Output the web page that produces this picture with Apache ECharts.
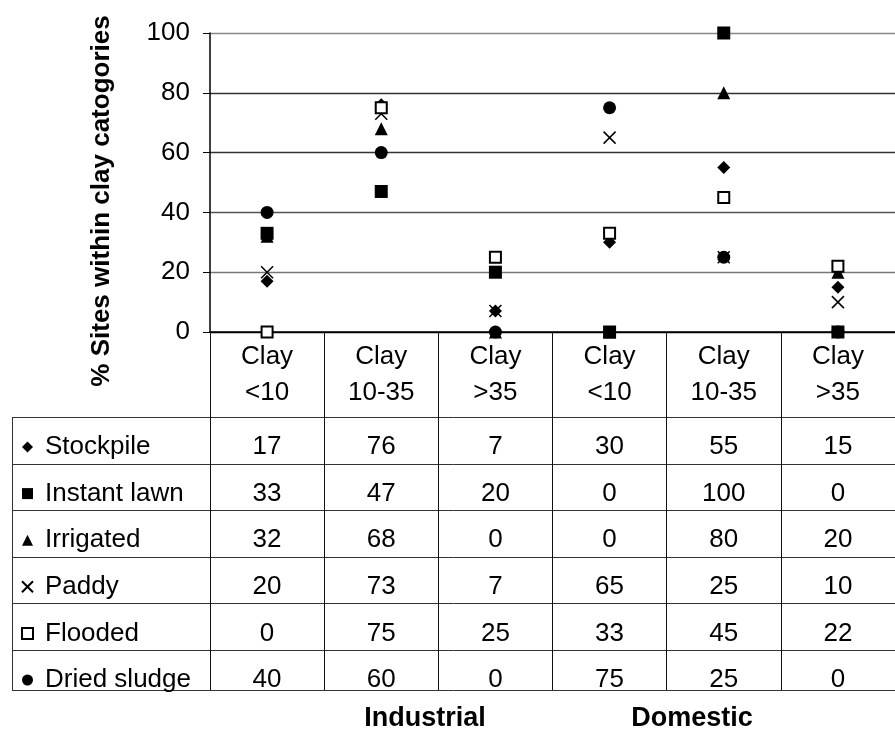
<!DOCTYPE html>
<html>
<head>
<meta charset="utf-8">
<script src="https://cdn.jsdelivr.net/npm/echarts@6/dist/echarts.min.js"></script>
<style>
html,body{margin:0;padding:0;background:#fff;}
#chart{width:895px;height:729px;}
</style>
</head>
<body>
<div id="chart"></div>
<script>
var categories = ["Clay\n<10", "Clay\n10-35", "Clay\n>35", "Clay\n<10", "Clay\n10-35", "Clay\n>35"];
var groupLabels = ["Industrial", "Domestic"];
var yTicks = [0, 20, 40, 60, 80, 100];

var seriesNames = ["Stockpile", "Instant lawn", "Irrigated", "Paddy", "Flooded", "Dried sludge"];
var stockpile   = [17, 76, 7, 30, 55, 15];
var instantLawn = [33, 47, 20, 0, 100, 0];
var irrigated   = [32, 68, 0, 0, 80, 20];
var paddy       = [20, 73, 7, 65, 25, 10];
var flooded     = [0, 75, 25, 33, 45, 22];
var driedSludge = [40, 60, 0, 75, 25, 0];
var seriesValues = [stockpile, instantLawn, irrigated, paddy, flooded, driedSludge];

var FONT = "'Liberation Sans', Arial, sans-serif";
var crossPath = 'path://M0,0L10,10M10,0L0,10';
var symbolDefs = [
  {symbol: 'diamond', size: 13, style: {color: '#000', opacity: 1}},
  {symbol: 'rect', size: 13, style: {color: '#000', opacity: 1}},
  {symbol: 'triangle', size: 13, style: {color: '#000', opacity: 1}},
  {symbol: crossPath, size: 12, style: {color: 'none', borderColor: '#000', borderWidth: 1.5, opacity: 1}},
  {symbol: 'rect', size: 11, style: {color: '#fff', borderColor: '#000', borderWidth: 2, opacity: 1}},
  {symbol: 'circle', size: 13, style: {color: '#000', opacity: 1}}
];

var GRID_LEFT = 210, GRID_TOP = 33, GRID_H = 299, GRID_W = 693;
var TABLE_TOP = 418, ROW_H = 46.6, TABLE_LEFT = 12, TABLE_BOTTOM = 690;

var chart = echarts.init(document.getElementById('chart'));

var series = seriesNames.map(function (name, k) {
  return {
    name: name,
    type: 'scatter',
    data: seriesValues[k],
    symbol: symbolDefs[k].symbol,
    symbolSize: symbolDefs[k].size,
    itemStyle: symbolDefs[k].style,
    emphasis: {disabled: true},
    clip: false,
    z: 3
  };
});

var option = {
  animation: false,
  backgroundColor: '#fff',
  grid: {left: GRID_LEFT, top: GRID_TOP, width: GRID_W, height: GRID_H, containLabel: false},
  xAxis: {
    type: 'category',
    data: categories,
    boundaryGap: true,
    axisLine: {show: true, lineStyle: {color: '#000', width: 1.5}},
    axisTick: {show: true, length: TABLE_BOTTOM - (GRID_TOP + GRID_H), lineStyle: {color: '#111', width: 1}},
    axisLabel: {
      interval: 0, color: '#000', fontFamily: FONT, fontSize: 26, lineHeight: 36, margin: 7
    },
    splitLine: {show: false}
  },
  yAxis: {
    type: 'value',
    min: 0, max: 100, interval: 20,
    name: '% Sites within clay catogories',
    nameLocation: 'middle',
    nameRotate: 90,
    nameGap: 95,
    nameTextStyle: {fontFamily: FONT, fontSize: 26, fontWeight: 'bold', color: '#000', padding: [0, 37, 0, 0]},
    axisLine: {show: true, lineStyle: {color: '#000', width: 1.5}},
    axisTick: {show: true, length: 7, lineStyle: {color: '#000'}},
    axisLabel: {color: '#000', fontFamily: FONT, fontSize: 26, margin: 20,
      formatter: function (v) { return yTicks.indexOf(v) >= 0 ? String(v) : ''; }},
    splitLine: {show: true, lineStyle: {color: ['#000', '#777', '#555', '#333', '#333', '#888'], width: 1.3}}
  },
  legend: {
    orient: 'vertical',
    left: 19.5,
    top: TABLE_TOP + 14,
    padding: 0,
    itemWidth: 11,
    itemHeight: 11,
    itemGap: ROW_H - 30,
    selectedMode: false,
    textStyle: {fontFamily: FONT, fontSize: 26, color: '#000', lineHeight: 30, padding: [0, 0, 0, 7]},
    data: seriesNames
  },
  series: series
};
chart.setOption(option);

// table overlay: grid lines and values placed from the axis scale
var elements = [];
var lineStyle = {stroke: '#333', lineWidth: 1};
for (var r = 0; r <= seriesNames.length; r++) {
  var y = r < seriesNames.length ? Math.round(TABLE_TOP + r * ROW_H) - 0.5 : TABLE_BOTTOM + 0.5;
  elements.push({type: 'line', shape: {x1: TABLE_LEFT, y1: y, x2: 895, y2: y}, style: lineStyle, silent: true});
}
elements.push({type: 'line', shape: {x1: TABLE_LEFT + 0.5, y1: TABLE_TOP, x2: TABLE_LEFT + 0.5, y2: TABLE_BOTTOM}, style: lineStyle, silent: true});

for (var i = 0; i < categories.length; i++) {
  var cx = chart.convertToPixel({xAxisIndex: 0}, i);
  for (var k = 0; k < seriesNames.length; k++) {
    elements.push({
      type: 'text',
      x: cx,
      y: TABLE_TOP + k * ROW_H + 29,
      style: {text: String(seriesValues[k][i]), font: '26px ' + FONT, fill: '#000', align: 'center', verticalAlign: 'middle'},
      silent: true
    });
  }
}
var groupCenters = [425, 692];
groupLabels.forEach(function (g, j) {
  elements.push({
    type: 'text', x: groupCenters[j], y: 719,
    style: {text: g, font: 'bold 27px ' + FONT, fill: '#000', align: 'center', verticalAlign: 'middle'},
    silent: true
  });
});
chart.setOption({graphic: {elements: elements}});
</script>
</body>
</html>
